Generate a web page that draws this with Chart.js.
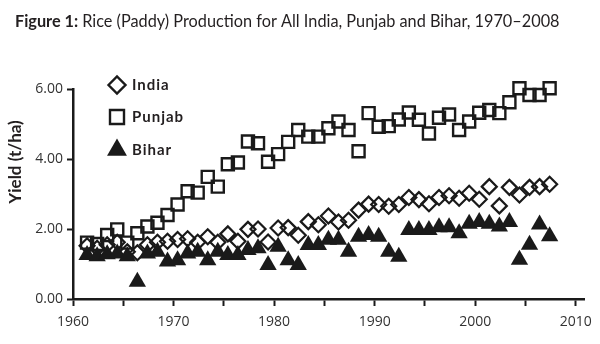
<!DOCTYPE html>
<html>
<head>
<meta charset="utf-8">
<script src="https://cdn.jsdelivr.net/npm/chart.js@4.4.0/dist/chart.umd.min.js"></script>
<style>
    html, body { margin: 0; padding: 0; background: #fff; }
</style>
</head>
<body>
<canvas id="yieldChart" width="600" height="344"></canvas>
<script>
// Rice (paddy) yield in t/ha
var years = [1961, 1962, 1963, 1964, 1965, 1966, 1967, 1968, 1969, 1970,
             1971, 1972, 1973, 1974, 1975, 1976, 1977, 1978, 1979, 1980,
             1981, 1982, 1983, 1984, 1985, 1986, 1987, 1988, 1989, 1990,
             1991, 1992, 1993, 1994, 1995, 1996, 1997, 1998, 1999, 2000,
             2001, 2002, 2003, 2004, 2005, 2006, 2007];
var indiaYield = [1.52, 1.45, 1.55, 1.62, 1.35, 1.32, 1.55, 1.62, 1.65, 1.70,
                  1.72, 1.62, 1.78, 1.62, 1.86, 1.65, 1.99, 2.00, 1.63, 2.03,
                  2.04, 1.82, 2.21, 2.12, 2.37, 2.20, 2.25, 2.54, 2.71, 2.70,
                  2.65, 2.70, 2.90, 2.84, 2.72, 2.90, 2.95, 2.88, 3.02, 2.85,
                  3.21, 2.66, 3.19, 2.97, 3.19, 3.21, 3.28];
var punjabYield = [1.61, 1.57, 1.83, 1.99, 1.61, 1.88, 2.07, 2.18, 2.40, 2.70,
                   3.08, 3.04, 3.49, 3.21, 3.85, 3.90, 4.50, 4.45, 3.92, 4.14,
                   4.49, 4.83, 4.64, 4.64, 4.88, 5.07, 4.83, 4.22, 5.31, 4.92,
                   4.94, 5.13, 5.33, 5.12, 4.73, 5.18, 5.27, 4.83, 5.07, 5.32,
                   5.40, 5.31, 5.62, 6.02, 5.83, 5.83, 6.02];
var biharYield = [1.26, 1.22, 1.28, 1.30, 1.22, 0.49, 1.30, 1.35, 1.07, 1.11,
                  1.30, 1.35, 1.11, 1.35, 1.26, 1.26, 1.40, 1.45, 0.97, 1.49,
                  1.11, 0.97, 1.54, 1.54, 1.69, 1.69, 1.35, 1.78, 1.83, 1.78,
                  1.35, 1.21, 1.97, 1.97, 1.97, 2.05, 2.05, 1.88, 2.15, 2.20,
                  2.15, 2.07, 2.20, 1.12, 1.55, 2.13, 1.79];
var xLabels = [1960, 1970, 1980, 1990, 2000, 2010];
var yTicks = [0, 2, 4, 6];

// crop-year values sit a little to the right of the calendar-year tick
var seasonShift = 0.4;

var ink = '#1a1a1a';

function toPoints(values) {
    return values.map(function (v, i) {
        return { x: years[i] + seasonShift, y: v };
    });
}

// draw one legend marker the same way as the plotted points
function legendMarker(ctx, style, x, y, r) {
    ctx.beginPath();
    if (style === 'rectRot') {
        ctx.moveTo(x - r, y);
        ctx.lineTo(x, y - r);
        ctx.lineTo(x + r, y);
        ctx.lineTo(x, y + r);
        ctx.closePath();
        ctx.stroke();
    } else if (style === 'rect') {
        ctx.rect(x - r, y - r, 2 * r, 2 * r);
        ctx.stroke();
    } else {
        var h = r * Math.sqrt(3) / 2;
        ctx.moveTo(x, y - r);
        ctx.lineTo(x + h, y + r / 2);
        ctx.lineTo(x - h, y + r / 2);
        ctx.closePath();
        ctx.fill();
    }
}

var pageText = {
    id: 'pageText',
    afterDraw: function (chart) {
        var ctx = chart.ctx;
        ctx.save();
        ctx.fillStyle = '#231f20';
        ctx.strokeStyle = ink;

        // figure title
        ctx.textAlign = 'left';
        ctx.textBaseline = 'alphabetic';
        ctx.font = 'bold 16.3px Lato';
        ctx.fillText('Figure 1:', 15, 27);
        var w = ctx.measureText('Figure 1: ').width;
        ctx.font = '16.3px Lato';
        ctx.fillText('Rice (Paddy) Production for All India, Punjab and Bihar, 1970\u20132008', 15 + w, 27);

        // legend inside the plot
        var items = [
            { label: 'India', style: 'rectRot', r: 8.5, y: 85 },
            { label: 'Punjab', style: 'rect', r: 7, y: 117 },
            { label: 'Bihar', style: 'triangle', r: 11.5, y: 150 }
        ];
        ctx.lineWidth = 2.4;
        ctx.fillStyle = ink;
        items.forEach(function (it) {
            legendMarker(ctx, it.style, 117, it.y, it.r);
        });
        ctx.fillStyle = '#231f20';
        ctx.font = 'bold 15px Lato';
        ctx.letterSpacing = '1px';
        ctx.textBaseline = 'middle';
        items.forEach(function (it) {
            ctx.fillText(it.label, 132, it.y);
        });
        ctx.letterSpacing = '0px';

        // y axis title
        ctx.translate(16, 162);
        ctx.rotate(-Math.PI / 2);
        ctx.textAlign = 'center';
        ctx.font = 'bold 17px Lato';
        ctx.fillText('Yield (t/ha)', 0, 0);
        ctx.restore();
    }
};

var ctx = document.getElementById('yieldChart').getContext('2d');
var yieldChart = new Chart(ctx, {
    type: 'scatter',
    data: {
        datasets: [{
            label: 'India',
            data: toPoints(indiaYield),
            pointStyle: 'rectRot',
            pointRadius: 7.5,
            pointBorderWidth: 2.2,
            borderColor: ink,
            backgroundColor: 'rgba(0,0,0,0)',
            clip: false,
            order: 3
        }, {
            label: 'Punjab',
            data: toPoints(punjabYield),
            pointStyle: 'rect',
            pointRadius: 8.5,
            pointBorderWidth: 2.4,
            borderColor: ink,
            backgroundColor: 'rgba(0,0,0,0)',
            clip: false,
            order: 2
        }, {
            label: 'Bihar',
            data: toPoints(biharYield),
            pointStyle: 'triangle',
            pointRadius: 10,
            pointBorderWidth: 0,
            borderColor: ink,
            backgroundColor: ink,
            clip: false,
            order: 1
        }]
    },
    options: {
        responsive: false,
        animation: false,
        events: [],
        layout: {
            padding: { top: 89, right: 13, bottom: 0, left: 0 }
        },
        plugins: {
            legend: { display: false },
            tooltip: { enabled: false },
            title: { display: false }
        },
        scales: {
            x: {
                type: 'linear',
                min: 1960,
                max: 2010.9,
                afterFit: function (scale) { scale.height = 45; },
                border: { color: ink, width: 2.5 },
                grid: {
                    drawOnChartArea: false,
                    drawTicks: true,
                    tickLength: 7,
                    tickWidth: 2,
                    color: ink
                },
                ticks: {
                    stepSize: 5,
                    includeBounds: false,
                    autoSkip: false,
                    maxRotation: 0,
                    padding: 8,
                    color: '#333',
                    font: { family: '"Open Sans"', size: 14 },
                    callback: function (v) {
                        return xLabels.indexOf(v) >= 0 ? String(v) : '';
                    }
                }
            },
            y: {
                min: 0,
                max: 6,
                afterFit: function (scale) { scale.width = 73; },
                afterBuildTicks: function (scale) {
                    scale.ticks = yTicks.map(function (v) { return { value: v }; });
                },
                border: { color: ink, width: 2.5 },
                grid: {
                    drawOnChartArea: false,
                    drawTicks: true,
                    tickLength: 6,
                    tickWidth: 2,
                    color: ink
                },
                ticks: {
                    padding: 4,
                    color: '#333',
                    font: { family: '"Open Sans"', size: 14 },
                    callback: function (v) { return v.toFixed(2); }
                }
            }
        }
    },
    plugins: [pageText]
});
</script>
</body>
</html>
